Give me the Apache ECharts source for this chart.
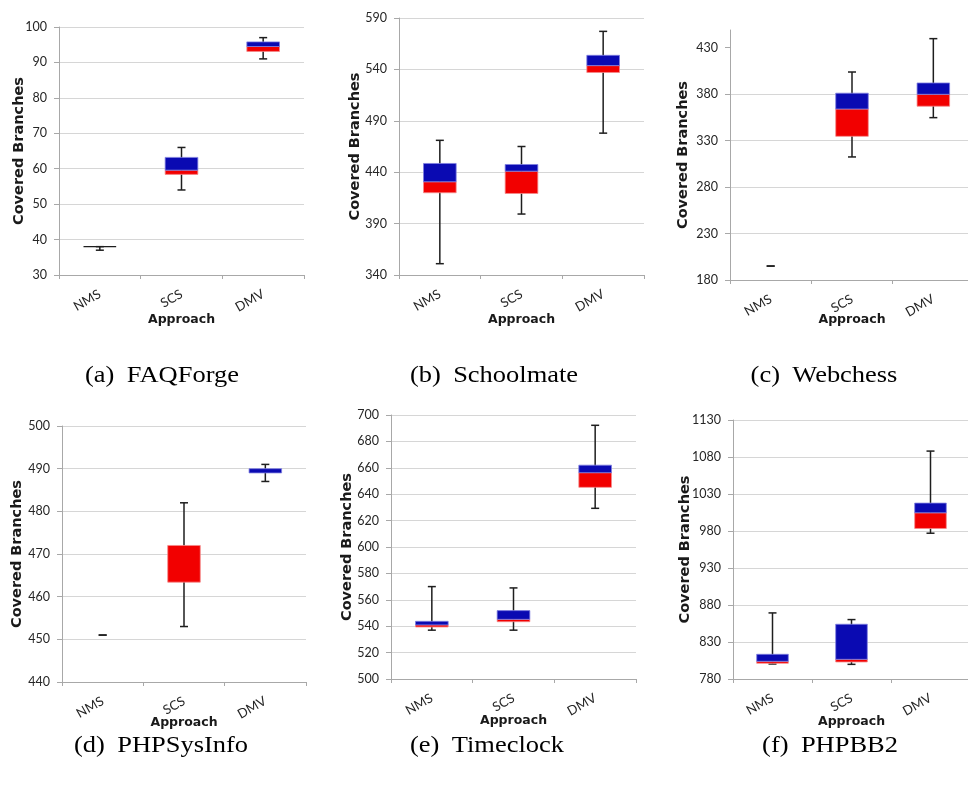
<!DOCTYPE html>
<html><head><meta charset="utf-8">
<script src="https://cdn.jsdelivr.net/npm/echarts@6/dist/echarts.min.js"></script>
<style>html,body{margin:0;padding:0;background:#fff}#c{width:968px;height:790px}</style>
</head><body><div id="c"></div>
<script>
// ---------------- data ----------------
const categories = ['NMS', 'SCS', 'DMV'];
// each row: [min, q1, median, q3, max]
const faqforge   = [[37, 38, 38, 38, 38], [54, 58.4, 59.6, 63.2, 66], [91, 93.1, 94.5, 95.8, 97]];
const schoolmate = [[351, 420, 430.7, 448.5, 471], [399.3, 419.3, 441, 447.5, 465], [478, 537, 543.7, 553.7, 577]];
const webchess   = [[195, 195, 195, 195, 195], [312.4, 334.6, 364, 381, 403.8], [354.7, 367, 379.8, 392, 439.7]];
const phpsysinfo = [[451, 451, 451, 451, 451], [453, 463.4, 472, 472, 482], [487, 489, 489, 490, 491]];
const timeclock  = [[537, 539.4, 541, 543.7, 570], [537, 543.4, 545.2, 551.8, 569], [629.3, 645.2, 656.3, 662, 692.2]];
const phpbb2     = [[800.3, 801.2, 803.9, 813.4, 869.3], [799.8, 803, 806.6, 854, 860.3], [977, 983.4, 1004.6, 1017.7, 1088]];

const ticksA = [30, 40, 50, 60, 70, 80, 90, 100];
const ticksB = [340, 390, 440, 490, 540, 590];
const ticksC = [180, 230, 280, 330, 380, 430];
const ticksD = [440, 450, 460, 470, 480, 490, 500];
const ticksE = [500, 520, 540, 560, 580, 600, 620, 640, 660, 680, 700];
const ticksF = [780, 830, 880, 930, 980, 1030, 1080, 1130];
const yMaxs = [100, 590, 449, 500, 700, 1130];

const captionLabels = ['(a)', '(b)', '(c)', '(d)', '(e)', '(f)'];
const captionNames = ['FAQForge', 'Schoolmate', 'Webchess', 'PHPSysInfo', 'Timeclock', 'PHPBB2'];
const yAxisTitle = 'Covered Branches';
const xAxisTitle = 'Approach';

const panelData = [faqforge, schoolmate, webchess, phpsysinfo, timeclock, phpbb2];
const panelTicks = [ticksA, ticksB, ticksC, ticksD, ticksE, ticksF];

// ---------------- layout / style ----------------
const layout = [
  {left: 59,  top: 27,  w: 245, h: 248, yGap: 32, xGap: 38},
  {left: 399, top: 18,  w: 245, h: 257, yGap: 36, xGap: 38},
  {left: 730, top: 30,  w: 244, h: 250, yGap: 39, xGap: 33},
  {left: 62,  top: 426, w: 244, h: 256, yGap: 37, xGap: 34},
  {left: 391, top: 415, w: 245, h: 264, yGap: 36, xGap: 35},
  {left: 733, top: 420, w: 237, h: 259, yGap: 40, xGap: 36}
];
const captionPos = [[162, 376], [494, 376], [824, 376], [161, 746], [487, 746], [830, 746]];

const RED = '#f20000', BLUE = '#0a0ab2', WHISK = '#1e1e1e';
const AXIS = '#a8a8a8', GRID = '#d6d6d6', LABEL = '#262626';

function renderBox(params, api) {
  const x = api.value(0);
  const v = [api.value(1), api.value(2), api.value(3), api.value(4), api.value(5)];
  const p = v.map(val => api.coord([x, val]));
  const cx = p[0][0];
  const bw = api.size([1, 0])[0] * 0.4;
  const cap = 4;
  const ch = [];
  ch.push({type: 'line', shape: {x1: cx, y1: p[0][1], x2: cx, y2: p[4][1]}, style: {stroke: WHISK, lineWidth: 1.5}});
  ch.push({type: 'line', shape: {x1: cx - cap, y1: p[0][1], x2: cx + cap, y2: p[0][1]}, style: {stroke: WHISK, lineWidth: 1.5}});
  ch.push({type: 'line', shape: {x1: cx - cap, y1: p[4][1], x2: cx + cap, y2: p[4][1]}, style: {stroke: WHISK, lineWidth: 1.5}});
  if (p[1][1] - p[2][1] > 0.01) {
    ch.push({type: 'rect', shape: {x: cx - bw / 2, y: p[2][1], width: bw, height: p[1][1] - p[2][1]},
      style: {fill: RED, stroke: '#f48a8a', lineWidth: 0.8}});
  }
  if (p[2][1] - p[3][1] > 0.01) {
    ch.push({type: 'rect', shape: {x: cx - bw / 2, y: p[3][1], width: bw, height: p[2][1] - p[3][1]},
      style: {fill: BLUE, stroke: '#7f7fe0', lineWidth: 0.8}});
  }
  if (Math.abs(p[1][1] - p[3][1]) < 0.01 && Math.abs(p[0][1] - p[4][1]) > 0.01) {
    ch.push({type: 'line', shape: {x1: cx - bw / 2, y1: p[1][1], x2: cx + bw / 2, y2: p[1][1]},
      style: {stroke: WHISK, lineWidth: 1.2}});
  }
  return {type: 'group', children: ch};
}

const grid = [], xAxis = [], yAxis = [], series = [], graphic = [];
layout.forEach((L, i) => {
  grid.push({left: L.left, top: L.top, width: L.w, height: L.h, containLabel: false, outerBoundsMode: 'none'});
  xAxis.push({
    type: 'category', gridIndex: i, data: categories, boundaryGap: true,
    name: xAxisTitle, nameLocation: 'middle', nameGap: L.xGap, nameMoveOverlap: false,
    nameTextStyle: {fontFamily: 'DejaVu Sans', fontWeight: 'bold', fontSize: 12.5, color: '#1a1a1a'},
    axisLine: {show: true, lineStyle: {color: AXIS, width: 1}},
    axisTick: {show: true, alignWithLabel: false, length: 4, lineStyle: {color: AXIS}},
    axisLabel: {rotate: 30, margin: 18, fontFamily: 'Lato', fontSize: 13, color: LABEL},
    splitLine: {show: false}
  });
  const t = panelTicks[i];
  yAxis.push({
    type: 'value', gridIndex: i, min: t[0], max: yMaxs[i], interval: t[1] - t[0],
    name: yAxisTitle, nameLocation: 'middle', nameGap: L.yGap, nameRotate: 90, nameMoveOverlap: false,
    nameTextStyle: {fontFamily: 'DejaVu Sans', fontWeight: 'bold', fontSize: 14.5, color: '#1a1a1a'},
    axisLine: {show: true, lineStyle: {color: AXIS, width: 1}},
    axisTick: {show: true, inside: false, length: 5, lineStyle: {color: AXIS}, customValues: t},
    axisLabel: {margin: 12, fontFamily: 'Lato', fontSize: 12.5, color: LABEL, customValues: t,
      formatter: val => String(val)},
    splitLine: {show: true, showMaxLine: yMaxs[i] === t[t.length - 1], lineStyle: {color: GRID, width: 1}}
  });
  series.push({
    type: 'custom', xAxisIndex: i, yAxisIndex: i, renderItem: renderBox,
    encode: {x: 0, y: [1, 2, 3, 4, 5]},
    data: panelData[i].map((r, k) => [k].concat(r)), clip: false, silent: true
  });
  graphic.push({
    type: 'text', x: captionPos[i][0], y: captionPos[i][1], scaleX: 1.15,
    style: {
      text: '{l|' + captionLabels[i] + ' }{n|' + captionNames[i] + '}',
      align: 'center', verticalAlign: 'middle',
      fontFamily: 'Liberation Serif', fontSize: 23, fill: '#000',
      rich: {
        l: {fontFamily: 'Liberation Serif', fontSize: 23, color: '#000', padding: [0, 5, 0, 0]},
        n: {fontFamily: 'Liberation Serif', fontSize: 23, color: '#000'}
      }
    }
  });
});

const chart = echarts.init(document.getElementById('c'), null, {renderer: 'canvas'});
chart.setOption({
  backgroundColor: '#ffffff', animation: false,
  grid, xAxis, yAxis, series, graphic
});
</script>
</body></html>
